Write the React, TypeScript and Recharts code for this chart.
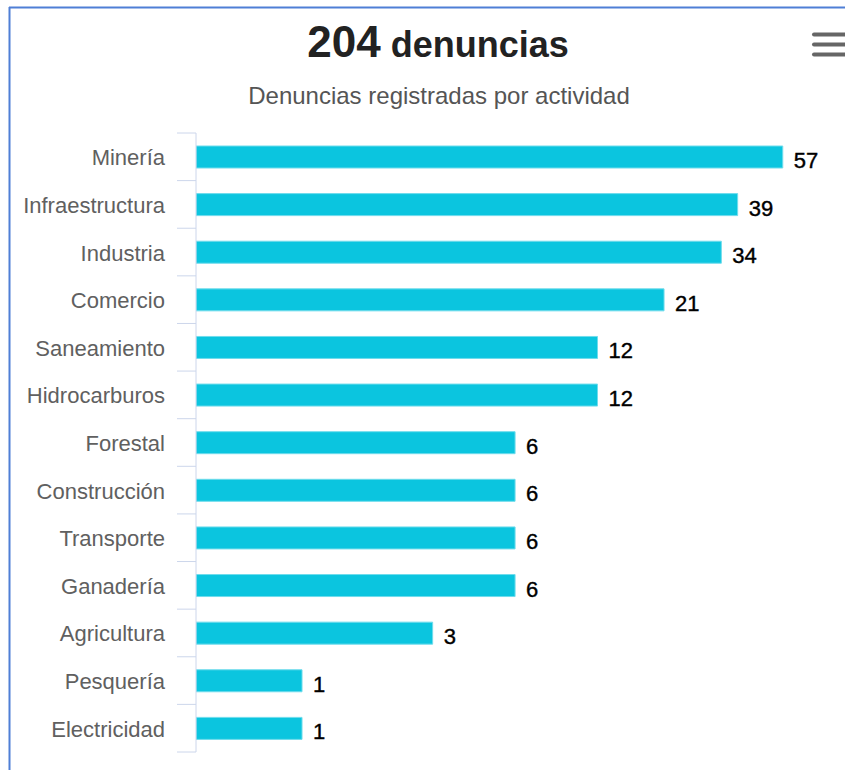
import { Bar, BarChart, LabelList, XAxis, YAxis } from "recharts";

const categories = [
  "Minería",
  "Infraestructura",
  "Industria",
  "Comercio",
  "Saneamiento",
  "Hidrocarburos",
  "Forestal",
  "Construcción",
  "Transporte",
  "Ganadería",
  "Agricultura",
  "Pesquería",
  "Electricidad",
];
const denuncias = [57, 39, 34, 21, 12, 12, 6, 6, 6, 6, 3, 1, 1];

const FONT = "'Liberation Sans', Arial, sans-serif";
const W = 845;
const H = 770;
const TOP = 133;
const BOTTOM = 18;
const BAND = (H - TOP - BOTTOM) / categories.length;

const data = categories.map((name, i) => ({ name, value: denuncias[i] }));

function CategoryTick(props: any) {
  const { x, y, payload, index } = props;
  const last = index === categories.length - 1;
  return (
    <g>
      <line x1={x - 19} x2={x} y1={y - BAND / 2} y2={y - BAND / 2} stroke="#ccd6eb" />
      {last && <line x1={x - 19} x2={x} y1={y + BAND / 2} y2={y + BAND / 2} stroke="#ccd6eb" />}
      <text x={x - 31} y={y + 8.5} textAnchor="end" fontSize={22} fill="#606060" fontFamily={FONT}>
        {payload.value}
      </text>
    </g>
  );
}

function ValueLabel(props: any) {
  const { x, y, width, height, value } = props;
  return (
    <text
      x={x + width + 11}
      y={y + height / 2 + 11}
      fontSize={22}
      fill="#000"
      stroke="#000"
      strokeWidth={0.4}
      fontFamily={FONT}
    >
      {value}
    </text>
  );
}

export default function App() {
  return (
    <div style={{ position: "absolute", left: 0, top: 0, width: W, height: H, background: "#fff" }}>
      <svg width={W} height={H} style={{ position: "absolute", left: 0, top: 0 }}>
        <line x1={9} x2={W} y1={7.5} y2={7.5} stroke="#4f7fd6" strokeWidth={2} />
        <line x1={9.5} x2={9.5} y1={7} y2={H} stroke="#4f7fd6" strokeWidth={2} />
        <text x={438} y={57} textAnchor="middle" fontFamily={FONT} fill="#222" fontWeight="bold">
          <tspan fontSize={44}>204</tspan>
          <tspan fontSize={36}> denuncias</tspan>
        </text>
        <text x={439} y={104} textAnchor="middle" fontFamily={FONT} fontSize={24} fill="#555">
          Denuncias registradas por actividad
        </text>
        {[34.5, 44.5, 54.5].map((cy) => (
          <line key={cy} x1={814} x2={845} y1={cy} y2={cy} stroke="#666" strokeWidth={4} strokeLinecap="round" />
        ))}
      </svg>
      <div style={{ position: "absolute", left: 0, top: 0 }}>
        <BarChart
          width={W}
          height={H}
          data={data}
          layout="vertical"
          margin={{ top: TOP, right: 15, bottom: BOTTOM, left: 0 }}
        >
          <XAxis type="number" scale="log" domain={[0.41, 84.8]} allowDataOverflow hide />
          <YAxis
            type="category"
            dataKey="name"
            width={196}
            axisLine={{ stroke: "#ccd6eb" }}
            tickLine={false}
            tickSize={0}
            tickMargin={0}
            interval={0}
            tick={<CategoryTick />}
          />
          <Bar dataKey="value" fill="#0bc5df" stroke="#6fdcec" strokeWidth={1} barSize={22} isAnimationActive={false}>
            <LabelList dataKey="value" content={<ValueLabel />} />
          </Bar>
        </BarChart>
      </div>
    </div>
  );
}
